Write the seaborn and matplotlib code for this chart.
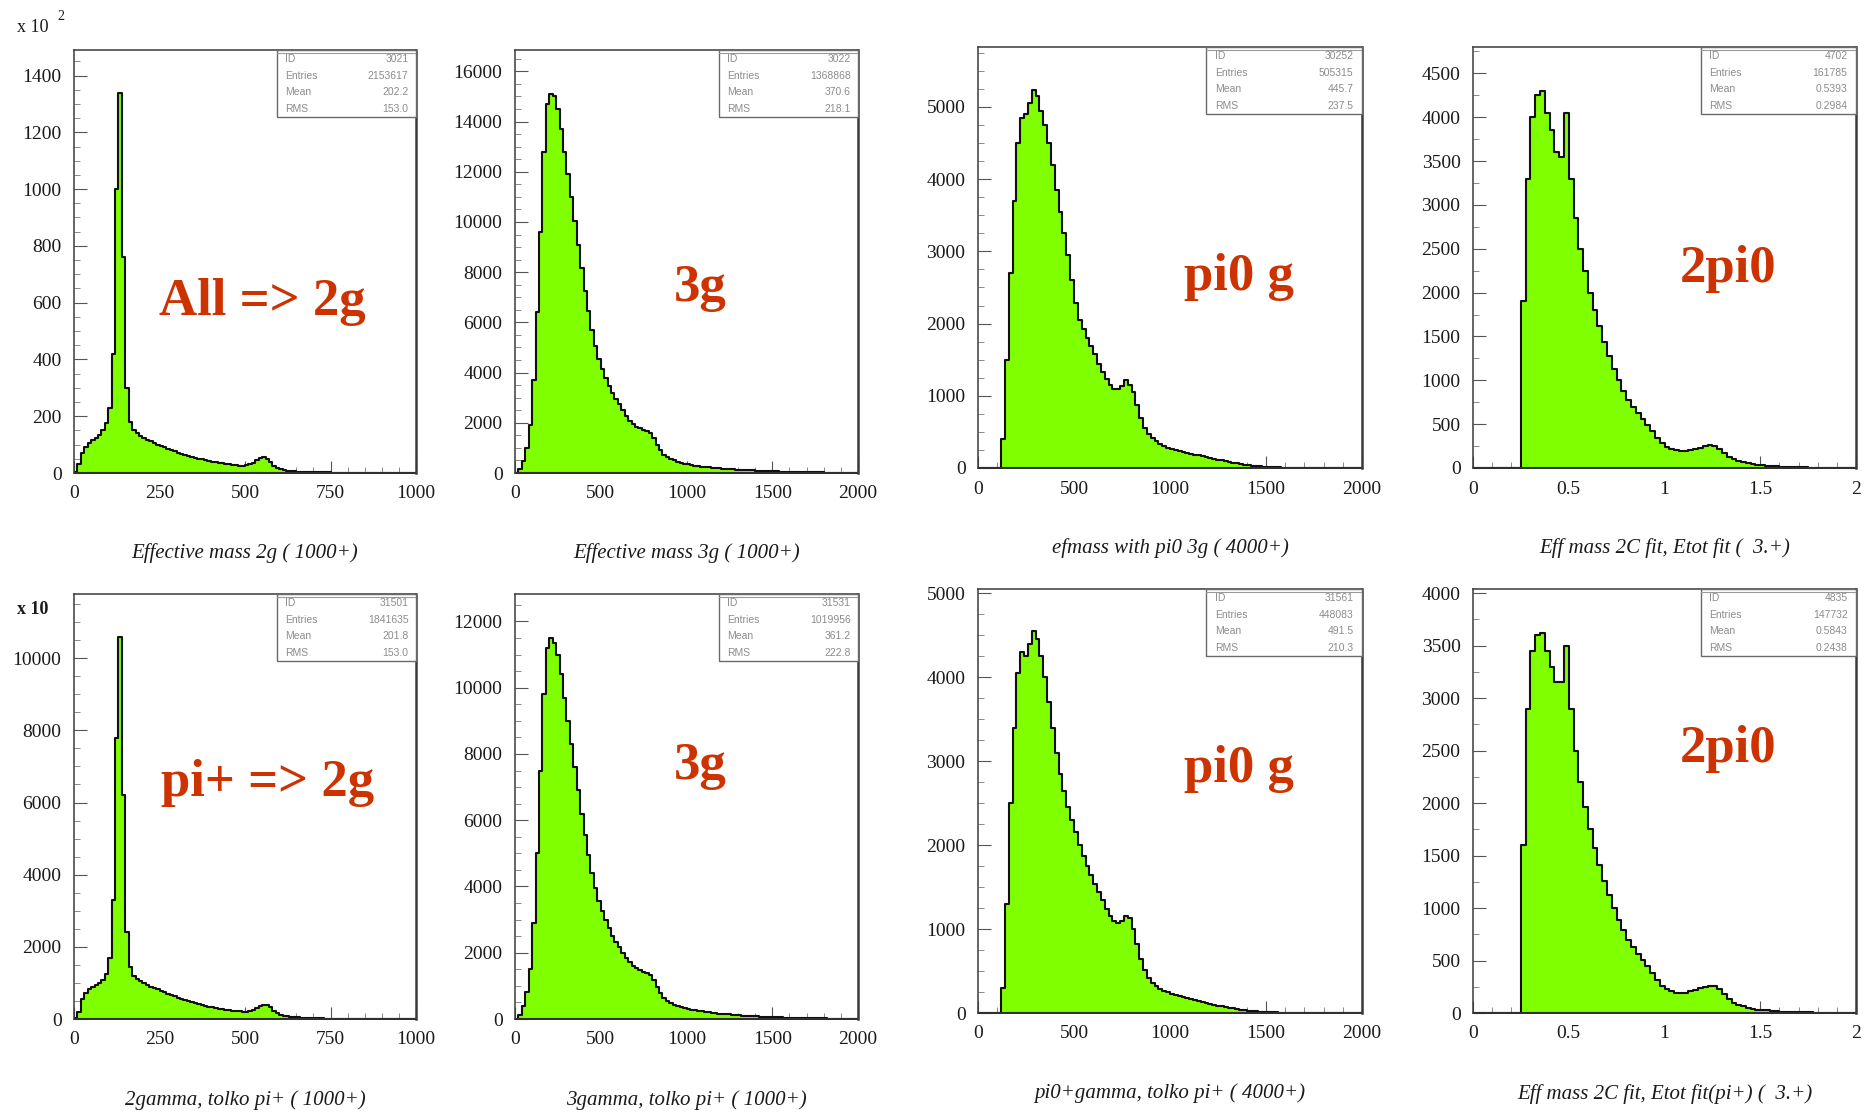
import numpy as np
import pandas as pd
import matplotlib
matplotlib.use("Agg")
import matplotlib.pyplot as plt
from matplotlib.patches import Rectangle
from matplotlib.ticker import MultipleLocator, FuncFormatter
import seaborn as sns

# ---------------------------------------------------------------- binning
edges_m1000 = np.linspace(0, 1000, 101)   # 10 MeV bins
edges_m2000 = np.linspace(0, 2000, 101)   # 20 MeV bins
edges_gev2 = np.linspace(0, 2, 81)        # 0.025 GeV bins

# ---------------------------------------------------------------- histogram contents
# Effective mass 2g (all), units of 10^2 entries
all_2g = [5, 30, 70, 90, 105, 115, 125, 135, 150, 175,
          230, 420, 1000, 1340, 760, 300, 180, 150, 140, 132,
          125, 118, 112, 106, 100, 95, 90, 85, 80, 76,
          72, 68, 64, 60, 57, 54, 51, 48, 45, 42,
          40, 38, 36, 34, 32, 30, 28, 27, 26, 25,
          27, 30, 36, 45, 52, 55, 50, 38, 26, 18,
          13, 10, 8, 7, 6, 5, 4, 4, 3, 3,
          3, 2, 2, 2, 2, 1, 1, 1, 1, 1,
          1, 1, 0, 0, 0, 0, 0, 0, 0, 0,
          0, 0, 0, 0, 0, 0, 0, 0, 0, 0]

# Effective mass 3g (all)
all_3g = [0, 150, 480, 1000, 1900, 3700, 6400, 9600, 12800, 14700,
          15100, 15000, 14500, 13700, 12800, 11900, 11000, 10050, 9100, 8150,
          7250, 6450, 5700, 5050, 4550, 4150, 3800, 3450, 3180, 2950,
          2730, 2500, 2280, 2080, 1950, 1850, 1780, 1720, 1660, 1580,
          1400, 1120, 900, 720, 620, 550, 500, 450, 410, 375,
          345, 318, 295, 275, 258, 242, 228, 215, 202, 190,
          178, 167, 157, 147, 138, 129, 121, 114, 107, 100,
          94, 88, 82, 76, 70, 65, 60, 56, 52, 48,
          44, 41, 38, 35, 32, 29, 27, 25, 23, 21,
          19, 17, 15, 13, 12, 11, 10, 9, 8, 7]

# efmass with pi0 3g (all)
all_pi0g = [0, 0, 0, 0, 0, 0, 400, 1500, 2700, 3700,
            4500, 4850, 4900, 5050, 5230, 5150, 4950, 4750, 4500, 4200,
            3850, 3550, 3250, 2950, 2600, 2280, 2050, 1920, 1800, 1690,
            1580, 1440, 1330, 1230, 1150, 1090, 1090, 1140, 1220, 1150,
            1050, 870, 690, 560, 470, 410, 370, 335, 305, 280,
            262, 248, 235, 222, 210, 198, 186, 174, 162, 150,
            138, 126, 115, 104, 94, 84, 74, 65, 56, 48,
            40, 34, 28, 23, 18, 14, 11, 9, 7, 6,
            5, 4, 4, 3, 3, 2, 2, 2, 1, 1,
            1, 1, 1, 1, 0, 0, 0, 0, 0, 0]

# Eff mass 2C fit, Etot fit (all)
all_2pi0 = [0, 0, 0, 0, 0, 0, 0, 0, 0, 0,
            1900, 3300, 4000, 4250, 4300, 4050, 3850, 3600, 3550, 4050,
            3300, 2850, 2500, 2250, 2000, 1800, 1620, 1440, 1280, 1130,
            1000, 880, 780, 700, 630, 560, 490, 420, 340, 280,
            240, 215, 200, 190, 190, 200, 215, 230, 250, 265,
            255, 220, 175, 130, 100, 80, 65, 52, 42, 35,
            30, 25, 21, 18, 15, 12, 10, 8, 7, 6,
            5, 4, 4, 3, 3, 2, 2, 1, 1, 1]

# 2gamma, pi+ only, units of 10 entries
pip_2g = [20, 200, 550, 720, 820, 880, 930, 990, 1080, 1250,
          1700, 3300, 7800, 10600, 6200, 2400, 1450, 1200, 1120, 1060,
          1000, 950, 900, 860, 820, 780, 740, 700, 660, 625,
          590, 555, 520, 490, 460, 435, 410, 385, 360, 340,
          320, 300, 285, 270, 255, 240, 228, 218, 210, 205,
          205, 215, 250, 300, 360, 400, 390, 320, 230, 160,
          115, 90, 72, 60, 50, 42, 35, 30, 26, 22,
          19, 16, 14, 12, 10, 9, 8, 7, 6, 5,
          5, 4, 4, 3, 3, 3, 2, 2, 2, 2,
          1, 1, 1, 1, 1, 1, 1, 1, 1, 1]

# 3gamma, pi+ only
pip_3g = [0, 120, 380, 800, 1500, 2900, 5000, 7500, 9800, 11200,
          11500, 11350, 11000, 10400, 9700, 9000, 8300, 7600, 6900, 6200,
          5550, 4950, 4400, 3950, 3550, 3250, 2980, 2740, 2520, 2330,
          2160, 2000, 1850, 1720, 1610, 1530, 1470, 1430, 1390, 1320,
          1180, 960, 780, 630, 540, 480, 435, 395, 360, 330,
          305, 282, 262, 244, 228, 213, 200, 188, 177, 166,
          156, 146, 137, 128, 120, 112, 105, 98, 92, 86,
          80, 75, 70, 65, 60, 56, 52, 48, 45, 42,
          39, 36, 33, 30, 28, 26, 24, 22, 20, 18,
          16, 14, 13, 12, 11, 10, 9, 8, 7, 6]

# pi0+gamma, pi+ only
pip_pi0g = [0, 0, 0, 0, 0, 0, 300, 1300, 2500, 3400,
            4050, 4300, 4250, 4400, 4550, 4450, 4250, 4000, 3700, 3400,
            3100, 2850, 2650, 2450, 2300, 2150, 2000, 1870, 1750, 1640,
            1540, 1440, 1340, 1240, 1150, 1090, 1070, 1100, 1160, 1130,
            1000, 820, 640, 510, 420, 360, 320, 290, 265, 245,
            228, 213, 199, 186, 174, 162, 151, 140, 129, 118,
            108, 98, 88, 79, 70, 62, 54, 47, 40, 34,
            28, 23, 19, 15, 12, 10, 8, 6, 5, 4,
            4, 3, 3, 2, 2, 2, 1, 1, 1, 1,
            1, 1, 0, 0, 0, 0, 0, 0, 0, 0]

# Eff mass 2C fit, Etot fit, pi+ only
pip_2pi0 = [0, 0, 0, 0, 0, 0, 0, 0, 0, 0,
            1600, 2900, 3450, 3600, 3620, 3450, 3300, 3150, 3150, 3500,
            2900, 2500, 2200, 1960, 1750, 1570, 1410, 1260, 1120, 1000,
            890, 790, 700, 630, 565, 505, 445, 385, 315, 260,
            225, 205, 195, 190, 195, 205, 220, 235, 250, 262,
            255, 225, 180, 135, 100, 78, 62, 50, 40, 33,
            28, 24, 20, 17, 14, 12, 10, 8, 7, 6,
            5, 4, 3, 3, 2, 2, 2, 1, 1, 1]

# ---------------------------------------------------------------- text
titles = ["Effective mass 2g ( 1000+)",
          "Effective mass 3g ( 1000+)",
          "efmass with pi0 3g ( 4000+)",
          "Eff mass 2C fit, Etot fit (  3.+)",
          "2gamma, tolko pi+ ( 1000+)",
          "3gamma, tolko pi+ ( 1000+)",
          "pi0+gamma, tolko pi+ ( 4000+)",
          "Eff mass 2C fit, Etot fit(pi+) (  3.+)"]

channel_labels = ["All => 2g", "3g", "pi0 g", "2pi0",
                  "pi+ => 2g", "3g", "pi0 g", "2pi0"]

stat_ids = ["3021", "3022", "30252", "4702", "31501", "31531", "31561", "4835"]
stat_entries = ["2153617", "1368868", "505315", "161785",
                "1841635", "1019956", "448083", "147732"]
stat_means = ["202.2", "370.6", "445.7", "0.5393",
              "201.8", "361.2", "491.5", "0.5843"]
stat_rms = ["153.0", "218.1", "237.5", "0.2984",
            "153.0", "222.8", "210.3", "0.2438"]

# ---------------------------------------------------------------- style
sns.set_theme(style="white")
plt.rcParams["font.family"] = ["Liberation Serif", "DejaVu Serif"]
plt.rcParams["axes.edgecolor"] = "#333333"

GREEN = "#7fff00"
RED = "#cc3300"

fig = plt.figure(figsize=(18.69, 11.14), dpi=100, facecolor="white")
W, H = 1869.0, 1114.0


def add_axes_px(left, top, right, bottom):
    return fig.add_axes([left / W, 1 - bottom / H, (right - left) / W, (bottom - top) / H])


axes_px = [(74, 50, 416, 473), (515, 50, 858, 473), (978, 47, 1362, 468), (1473, 47, 1856, 468),
           (74, 594, 416, 1019), (515, 594, 858, 1019), (978, 589, 1362, 1013), (1473, 589, 1856, 1013)]

panel_edges = [edges_m1000, edges_m2000, edges_m2000, edges_gev2,
               edges_m1000, edges_m2000, edges_m2000, edges_gev2]
panel_counts = [all_2g, all_3g, all_pi0g, all_2pi0, pip_2g, pip_3g, pip_pi0g, pip_2pi0]
panel_ymax = [1490, 16850, 5830, 4800, 11780, 12830, 5050, 4040]
panel_ystep = [200, 2000, 1000, 500, 2000, 2000, 1000, 500]
panel_yminor = [50, 500, 250, 250, 500, 500, 250, 250]
panel_xmax = [1000, 2000, 2000, 2, 1000, 2000, 2000, 2]
panel_xstep = [250, 500, 500, 0.5, 250, 500, 500, 0.5]
panel_xminor = [50, 100, 100, 0.1, 50, 100, 100, 0.1]
label_pos = [(0.55, 0.404), (0.54, 0.437), (0.68, 0.454), (0.666, 0.473),
             (0.567, 0.555), (0.54, 0.595), (0.68, 0.575), (0.666, 0.623)]

fmt = FuncFormatter(lambda v, p: f"{v:g}")

for i in range(8):
    ax = add_axes_px(*axes_px[i])
    edges = panel_edges[i]
    hist_df = pd.DataFrame({"mass": (edges[:-1] + edges[1:]) / 2,
                            "count": np.asarray(panel_counts[i], dtype=float)})
    sns.histplot(data=hist_df, x="mass", weights="count", bins=list(edges),
                 element="step", fill=True, color=GREEN, alpha=1,
                 edgecolor="#101010", linewidth=1.5, ax=ax)
    ax.set_xlim(0, panel_xmax[i])
    ax.set_ylim(0, panel_ymax[i])
    ax.set_xlabel("")
    ax.set_ylabel("")
    ax.xaxis.set_major_locator(MultipleLocator(panel_xstep[i]))
    ax.xaxis.set_minor_locator(MultipleLocator(panel_xminor[i]))
    ax.yaxis.set_major_locator(MultipleLocator(panel_ystep[i]))
    ax.yaxis.set_minor_locator(MultipleLocator(panel_yminor[i]))
    ax.xaxis.set_major_formatter(fmt)
    ax.yaxis.set_major_formatter(fmt)
    ax.tick_params(which="major", direction="in", length=9, width=0.8, color="#555555",
                   labelsize=14, labelcolor="#1a1a1a", bottom=True, left=True,
                   top=False, right=False, pad=9)
    ax.tick_params(which="minor", direction="in", length=4, width=0.6, color="#777777",
                   bottom=True, left=True, top=False, right=False)
    for s in ax.spines.values():
        s.set_linewidth(1.1)
        s.set_color("#3a3a3a")
    ax.spines["right"].set_linewidth(1.8)

    # statistics box
    bx0, by0 = 0.595, 0.842
    ax.add_patch(Rectangle((bx0, by0), 1 - bx0, 1 - by0, transform=ax.transAxes,
                           facecolor="white", edgecolor="#6a6a6a", linewidth=1.0,
                           zorder=5, clip_on=False))
    ax.plot([bx0, 1.0], [0.992, 0.992], transform=ax.transAxes, color="#9a9a9a",
            linewidth=0.8, zorder=6)
    rows = [("ID", stat_ids[i]), ("Entries", stat_entries[i]),
            ("Mean", stat_means[i]), ("RMS", stat_rms[i])]
    for k, (name, val) in enumerate(rows):
        yy = 0.978 - k * 0.039
        ax.text(bx0 + 0.022, yy, name, transform=ax.transAxes, fontsize=7.5,
                color="#8c8c8c", va="center", ha="left", family="Liberation Sans", zorder=7)
        ax.text(0.978, yy, val, transform=ax.transAxes, fontsize=7.5,
                color="#8c8c8c", va="center", ha="right", family="Liberation Sans", zorder=7)

    # channel label
    lx, ly = label_pos[i]
    ax.text(lx, ly, channel_labels[i], transform=ax.transAxes, fontsize=38,
            fontweight="bold", color=RED, ha="center", va="center", zorder=8)

    # histogram title under the axis
    ax.text(0.5, -0.19, titles[i], transform=ax.transAxes, fontsize=15,
            style="italic", color="#1a1a1a", ha="center", va="center")

# y-axis multipliers
fig.text(17 / W, 1 - 28 / H, "x 10", fontsize=13, color="#1a1a1a", ha="left", va="center")
fig.text(57 / W, 1 - 17 / H, "2", fontsize=10, color="#1a1a1a", ha="left", va="center")
fig.text(17 / W, 1 - 610 / H, "x 10", fontsize=13, color="#1a1a1a", ha="left", va="center",
         fontweight="bold")

fig.savefig("out.png", dpi=100, facecolor="white")
